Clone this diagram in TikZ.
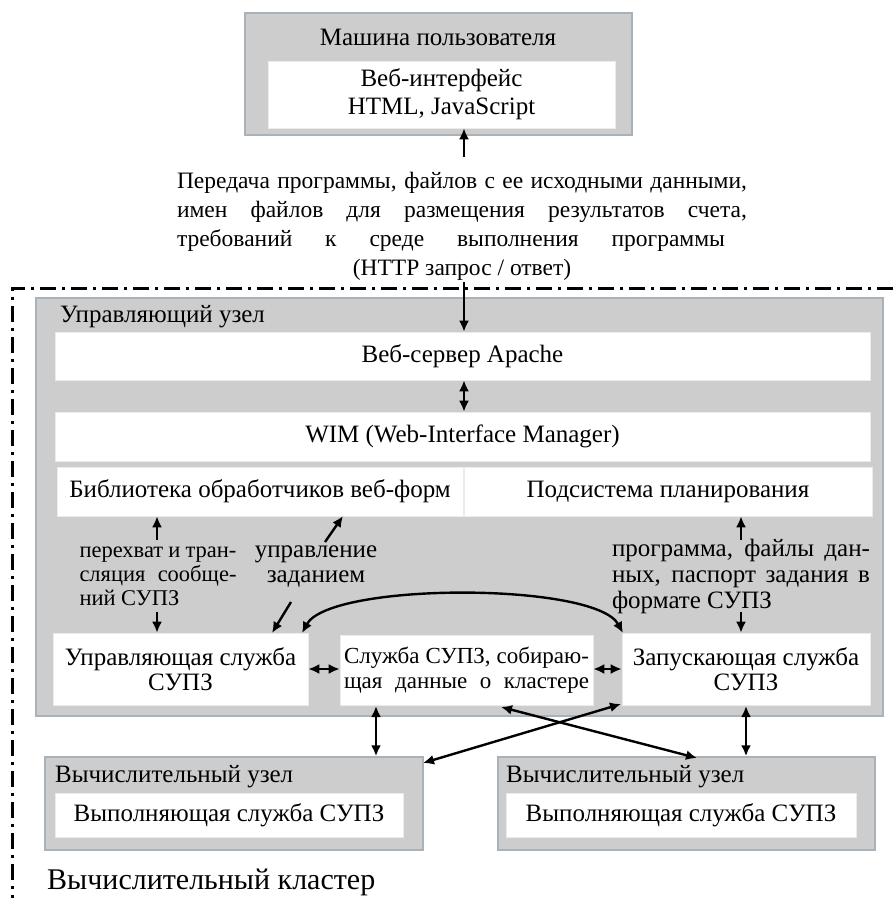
\documentclass[tikz,border=0pt]{standalone}
\usepackage{fontspec}
\setmainfont{Liberation Serif}
\usetikzlibrary{arrows.meta}
\definecolor{boxgray}{HTML}{CDCDCD}
\definecolor{boxedge}{HTML}{A9B1B9}
\newcommand\fsz{\fontsize{25}{25}\selectfont}
\tikzset{
 graybox/.style={draw=boxedge, line width=1.5pt, fill=boxgray, inner sep=0pt},
 whitebox/.style={fill=white, draw=black!8, line width=0.6pt, inner sep=0pt, align=center, font=\fsz},
 arr/.style={line width=2.4pt, -{Latex[length=11pt,width=10pt]}},
 darr/.style={line width=2.4pt, {Latex[length=11pt,width=10pt]}-{Latex[length=11pt,width=10pt]}},
 lbl/.style={inner sep=0pt, font=\fsz},
 clusterframe/.style={line width=3pt, dash pattern=on 16pt off 6pt on 3pt off 6pt},
}
\begin{document}
\begin{tikzpicture}[x=1pt,y=-1pt]
\useasboundingbox (0,0) rectangle (893,898);
% user machine
\node[graybox, minimum width=387pt, minimum height=122pt] (user) at (438.5,74) {};
\node[lbl] (usertitle) at (438,37) {Машина пользователя};
\node[whitebox, minimum width=347pt, minimum height=67pt] (webui) at (441.5,94.5) {Веб-интерфейс\\[3pt]HTML, JavaScript};
% paragraph
\node[lbl, align=center, font=\fontsize{23.5}{29}\selectfont] (para) at (462,226) {%
\makebox[570pt][s]{Передача программы, файлов с ее исходными данными,}\\
\makebox[570pt][s]{имен файлов для размещения результатов счета,}\\
\makebox[570pt][l]{\makebox[548pt][s]{требований к среде выполнения программы}}\\
(HTTP запрос / ответ)};
% cluster frame
\coordinate (frTR) at (893,288);
\coordinate (frTL) at (12,288);
\coordinate (frBL) at (12,898);
\draw[clusterframe] (frTR) -- (frTL) -- (frBL);
% control node
\node[graybox, minimum width=847pt, minimum height=418pt] (ctrl) at (459.5,507) {};
\node[lbl, anchor=west] (ctrltitle) at (60,317) {Управляющий узел};
\node[whitebox, minimum width=815pt, minimum height=48pt] (apache) at (462.5,356) {Веб-сервер Apache};
\node[whitebox, minimum width=815pt, minimum height=49pt] (wim) at (462.5,436.5) {WIM (Web-Interface Manager)};
\node[whitebox, minimum width=406pt, minimum height=49pt] (lib) at (260,491.5) {Библиотека обработчиков веб-форм};
\node[whitebox, minimum width=408pt, minimum height=49pt] (plan) at (668,491.5) {Подсистема планирования};
\node[whitebox, minimum width=255pt, minimum height=72pt] (upr) at (180.5,669) {Управляющая служба\\СУПЗ};
\node[whitebox, minimum width=253pt, minimum height=70pt, font=\fontsize{23}{25}\selectfont] (sbor) at (466.5,670) {\makebox[245pt][s]{Служба СУПЗ, собираю-}\\\makebox[245pt][s]{щая данные о кластере}};
\node[whitebox, minimum width=248pt, minimum height=72pt] (zap) at (746,669) {Запускающая служба\\СУПЗ};
% labels
\node[lbl, align=left, font=\fontsize{22.5}{24}\selectfont] (lab1) at (158,576) {%
\makebox[157pt][s]{перехват и тран-}\\
\makebox[157pt][s]{сляция сообще-}\\
\makebox[157pt][l]{ний СУПЗ}};
\node[lbl, align=center] (lab2) at (316,567) {управление\\заданием};
\node[lbl, align=left, font=\fontsize{25}{26}\selectfont] (lab3) at (741,576) {%
\makebox[258pt][s]{программа, файлы дан-}\\
\makebox[258pt][s]{ных, паспорт задания в}\\
\makebox[258pt][l]{формате СУПЗ}};
% compute nodes
\node[graybox, minimum width=378pt, minimum height=93pt] (comp1) at (234,803.5) {};
\node[lbl, anchor=west] (comp1title) at (55,777) {Вычислительный узел};
\node[whitebox, minimum width=348pt, minimum height=44pt] (exec1) at (229,815) {Выполняющая служба СУПЗ};
\node[graybox, minimum width=377pt, minimum height=93pt] (comp2) at (686.5,803.5) {};
\node[lbl, anchor=west] (comp2title) at (506,777) {Вычислительный узел};
\node[whitebox, minimum width=350pt, minimum height=44pt] (exec2) at (681,815) {Выполняющая служба СУПЗ};
\node[inner sep=0pt, anchor=west, font=\fontsize{30}{34}\selectfont] (cluster) at (47,882) {Вычислительный кластер};
% connectors
\coordinate (a1) at (464,157);
\draw[arr] (a1) -- (webui.south -| a1);
\coordinate (a2) at (464,282);
\draw[arr] (a2) -- (apache.north -| a2);
\draw[darr] (apache.south -| a2) -- (wim.north -| a2);
\coordinate (b1) at (157,540);
\coordinate (b2) at (157,612);
\draw[arr] (b1) -- (lib.south -| b1);
\draw[arr] (b2) -- (upr.north -| b2);
\coordinate (c1) at (325,542);
\coordinate (c1h) at (343,516);
\draw[arr] (c1) -- (c1h);
\coordinate (c2) at (291,602);
\coordinate (c2h) at (272,633);
\draw[arr] (c2) -- (c2h);
\coordinate (d1) at (741,540);
\coordinate (d2) at (741,612);
\draw[arr] (d1) -- (plan.south -| d1);
\draw[arr] (d2) -- (zap.north -| d2);
\draw[darr] (upr.east) -- (sbor.west |- upr.east);
\draw[darr] (sbor.east |- zap.west) -- (zap.west);
\coordinate (e1) at (302,633);
\coordinate (e2) at (623,633);
\draw[darr] (e1) .. controls (330,582) and (595,582) .. (e2);
\coordinate (f1) at (376,706);
\draw[darr] (f1) -- (comp1.north -| f1);
\coordinate (f2) at (746,706);
\draw[darr] (f2) -- (comp2.north -| f2);
\coordinate (g1) at (501,707);
\coordinate (g2) at (697,758);
\draw[darr] (g1) -- (g2);
\coordinate (h1) at (621,704);
\coordinate (h2) at (423,763);
\draw[darr] (h1) -- (h2);
\end{tikzpicture}
\end{document}
